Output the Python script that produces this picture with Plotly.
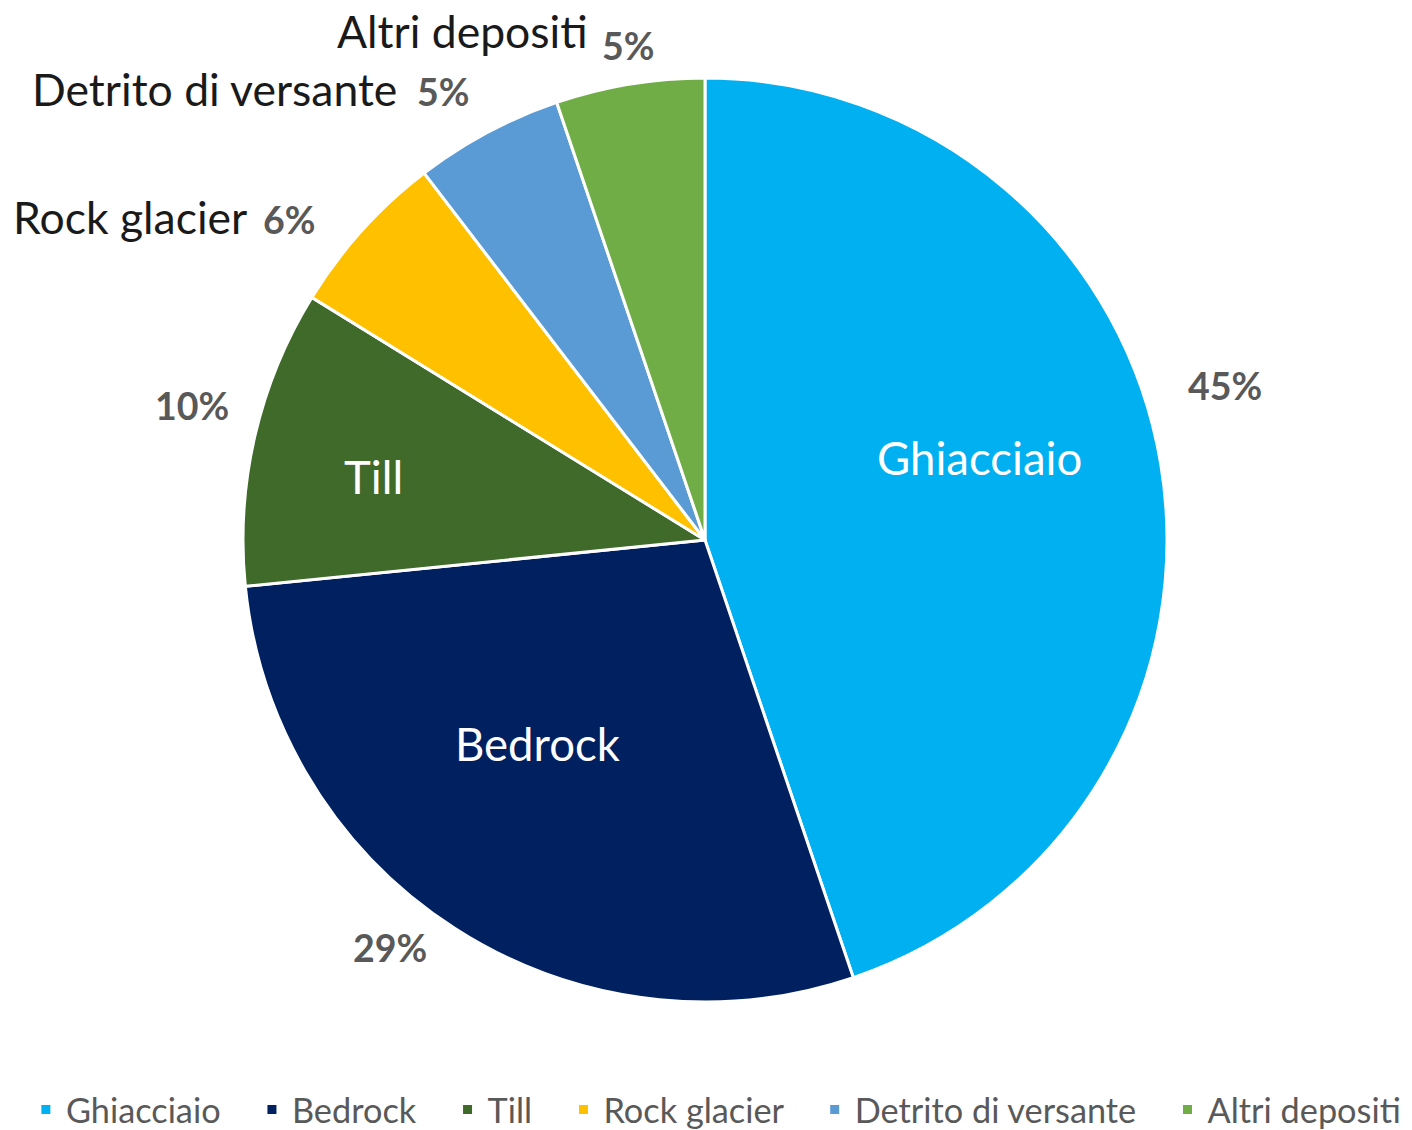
import math
import plotly.graph_objects as go

categories = ["Ghiacciaio", "Bedrock", "Till", "Rock glacier", "Detrito di versante", "Altri depositi"]
values = [44.8, 28.6, 10.4, 5.8, 5.2, 5.2]
colors = ["#00B0F0", "#002060", "#3F6A2A", "#FFC000", "#5B9BD5", "#70AD47"]

W, H = 1412, 1130
CX, CY, R = 705, 540, 462
FONT = "Lato"
NBSP = "\u00a0"

legend_names = [c + (NBSP * 3 if i < len(categories) - 1 else "") for i, c in enumerate(categories)]

fig = go.Figure(go.Pie(
    labels=legend_names, values=values, sort=False,
    direction="clockwise", rotation=0,
    marker=dict(colors=colors, line=dict(color="white", width=3)),
    textinfo="none", hoverinfo="label+percent",
    domain=dict(x=[(CX - R) / W, (CX + R) / W], y=[(H - CY - R) / H, (H - CY + R) / H]),
))

total = sum(values)
mids = []
acc = 0
for v in values:
    mids.append((acc + v / 2) / total * 360)
    acc += v
pcts = [f"{round(v / total * 100)}%" for v in values]


def pos(angle, rf):
    a = math.radians(angle)
    px = CX + rf * R * math.sin(a)
    py = CY - rf * R * math.cos(a)
    return px / W, 1 - py / H


anns = []
# inside names (first three slices)
inside = {0: (-7.4, 0.62), 1: (6.8, 0.57), 2: (-2.1, 0.73)}
for i, (da, rf) in inside.items():
    x, y = pos(mids[i] + da, rf)
    anns.append(dict(x=x, y=y, text=categories[i], showarrow=False,
                     font=dict(family=FONT, size=45.5, color="white"), xanchor="center", yanchor="middle"))
# outside percentages (first three)
outp = {0: (-7.2, 1.175), 1: (4.9, 1.115), 2: (1.7, 1.147)}
for i, (da, rf) in outp.items():
    x, y = pos(mids[i] + da, rf)
    anns.append(dict(x=x, y=y, text=f"<b>{pcts[i]}</b>", showarrow=False,
                     font=dict(family=FONT, size=37.5, color="#595959"), xanchor="center", yanchor="middle"))
# outside labels: name (right of anchor) + percent (left of anchor)
outl = {3: (-6.7, 1.195, 4, 1, 6), 4: (-5.3, 1.171, 0, -3, 8), 5: (-3.0, 1.112, 8, -7, 5)}
for i, (da, rf, ys_name, ys_pct, gap) in outl.items():
    x, y = pos(mids[i] + da, rf)
    anns.append(dict(x=x, y=y, text=categories[i], showarrow=False, xshift=-gap, yshift=ys_name,
                     font=dict(family=FONT, size=44.5, color="#1a1a1a"),
                     xanchor="right", yanchor="middle"))
    anns.append(dict(x=x, y=y, text=f"<b>{pcts[i]}</b>", showarrow=False, xshift=gap, yshift=ys_pct,
                     font=dict(family=FONT, size=37.5, color="#595959"),
                     xanchor="left", yanchor="middle"))

fig.update_layout(
    width=W, height=H, margin=dict(l=0, r=0, t=0, b=0, autoexpand=False),
    paper_bgcolor="white", plot_bgcolor="white",
    annotations=anns,
    showlegend=True,
    legend=dict(orientation="h", x=0.507, xanchor="center", y=0.018, yanchor="middle",
                font=dict(family=FONT, size=34.3, color="#595959"), itemwidth=30, traceorder="normal"),
)

fig.write_html("out.html", config={"displayModeBar": False},
               post_script="document.body.style.margin='0';")
